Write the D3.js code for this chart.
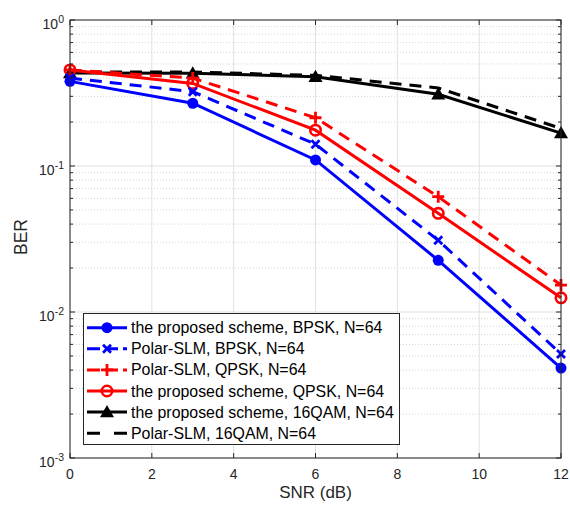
<!DOCTYPE html>
<html>
<head>
<meta charset="utf-8">
<script src="https://cdn.jsdelivr.net/npm/d3@7"></script>
<style>
  body { margin: 0; background: #fff; }
  svg { display: block; font-family: "Liberation Sans", Arial, Helvetica, sans-serif; }
</style>
</head>
<body>
<svg id="chart" width="570" height="506"></svg>
<script>
// SNR points (dB)
const snr = [0, 3, 6, 9, 12];

// BER curves
const berProposedBPSK = [0.38, 0.269, 0.110, 0.0226, 0.00413];
const berPolarBPSK    = [0.40, 0.323, 0.141, 0.0310, 0.00516];
const berPolarQPSK    = [0.455, 0.400, 0.214, 0.0616, 0.0153];
const berProposedQPSK = [0.455, 0.368, 0.176, 0.0474, 0.0125];
const berProposed16   = [0.434, 0.431, 0.409, 0.310, 0.168];
const berPolar16      = [0.44, 0.44, 0.418, 0.342, 0.181];

const seriesNames = [
  "the proposed scheme, BPSK, N=64",
  "Polar-SLM, BPSK, N=64",
  "Polar-SLM, QPSK, N=64",
  "the proposed scheme, QPSK, N=64",
  "the proposed scheme, 16QAM, N=64",
  "Polar-SLM, 16QAM, N=64"
];

const xTicks = [0, 2, 4, 6, 8, 10, 12];
const yDecades = [1e-3, 1e-2, 1e-1, 1];
const yTickExponents = ["-3", "-2", "-1", "0"];

const series = [
  { name: seriesNames[0], values: berProposedBPSK, color: "#0000ff", dash: null, marker: "dot" },
  { name: seriesNames[1], values: berPolarBPSK, color: "#0000ff", dash: "12,8", marker: "x" },
  { name: seriesNames[2], values: berPolarQPSK, color: "#ff0000", dash: "12,8", marker: "plus" },
  { name: seriesNames[3], values: berProposedQPSK, color: "#ff0000", dash: null, marker: "circle" },
  { name: seriesNames[4], values: berProposed16, color: "#000000", dash: null, marker: "tri" },
  { name: seriesNames[5], values: berPolar16, color: "#000000", dash: "12,8", marker: null }
];

const svg = d3.select("#chart");
const m = { left: 70, top: 20, right: 561, bottom: 458 };
const axisColor = "#262626";

const x = d3.scaleLinear().domain([0, 12]).range([m.left, m.right]);
const y = d3.scaleLog().domain([1e-3, 1]).range([m.bottom, m.top]);

// minor log values
const minorY = [];
for (let e = -3; e < 0; e++) {
  for (let k = 2; k <= 9; k++) minorY.push(k * Math.pow(10, e));
}

const grid = svg.append("g");
// minor dotted grid
grid.selectAll("line.minor").data(minorY).enter().append("line")
  .attr("x1", m.left).attr("x2", m.right)
  .attr("y1", d => y(d)).attr("y2", d => y(d))
  .attr("stroke", "#d4d4d4").attr("stroke-width", 1).attr("stroke-dasharray", "1,2");
// major grid
grid.selectAll("line.majy").data(yDecades).enter().append("line")
  .attr("x1", m.left).attr("x2", m.right)
  .attr("y1", d => y(d)).attr("y2", d => y(d))
  .attr("stroke", "#e0e0e0").attr("stroke-width", 1);
grid.selectAll("line.majx").data(xTicks).enter().append("line")
  .attr("x1", d => x(d)).attr("x2", d => x(d))
  .attr("y1", m.top).attr("y2", m.bottom)
  .attr("stroke", "#e0e0e0").attr("stroke-width", 1);

// curves
const line = d3.line().x((d, i) => x(snr[i])).y(d => y(d));
const plot = svg.append("g");

function drawMarker(g, type, color, cx, cy) {
  if (type === "dot") {
    g.append("circle").attr("cx", cx).attr("cy", cy).attr("r", 5.5).attr("fill", color);
  } else if (type === "circle") {
    g.append("circle").attr("cx", cx).attr("cy", cy).attr("r", 5.2)
      .attr("fill", "none").attr("stroke", color).attr("stroke-width", 2.6);
  } else if (type === "x") {
    const s = 4;
    g.append("path").attr("d", `M${cx - s},${cy - s}L${cx + s},${cy + s}M${cx - s},${cy + s}L${cx + s},${cy - s}`)
      .attr("stroke", color).attr("stroke-width", 2.8);
  } else if (type === "plus") {
    const s = 6;
    g.append("path").attr("d", `M${cx - s},${cy}L${cx + s},${cy}M${cx},${cy - s}L${cx},${cy + s}`)
      .attr("stroke", color).attr("stroke-width", 2.8);
  } else if (type === "tri") {
    const s = 7;
    g.append("path").attr("d", `M${cx},${cy - s}L${cx + s},${cy + s * 0.75}L${cx - s},${cy + s * 0.75}Z`)
      .attr("fill", color);
  }
}

// draw in reverse so the first series sits on top
series.slice().reverse().forEach(s => {
  const g = plot.append("g");
  g.append("path").attr("d", line(s.values))
    .attr("fill", "none").attr("stroke", s.color).attr("stroke-width", 3)
    .attr("stroke-dasharray", s.dash);
  if (s.marker) s.values.forEach((v, i) => drawMarker(g, s.marker, s.color, x(snr[i]), y(v)));
});

// axes box
const ax = svg.append("g").attr("stroke", axisColor).attr("stroke-width", 1).attr("fill", "none");
ax.append("rect").attr("x", m.left).attr("y", m.top)
  .attr("width", m.right - m.left).attr("height", m.bottom - m.top);

// x ticks (bottom and top)
xTicks.forEach(t => {
  ax.append("line").attr("x1", x(t)).attr("x2", x(t)).attr("y1", m.bottom).attr("y2", m.bottom - 5);
  ax.append("line").attr("x1", x(t)).attr("x2", x(t)).attr("y1", m.top).attr("y2", m.top + 5);
});
// y ticks major and minor (left and right)
yDecades.forEach(t => {
  ax.append("line").attr("x1", m.left).attr("x2", m.left + 5).attr("y1", y(t)).attr("y2", y(t));
  ax.append("line").attr("x1", m.right).attr("x2", m.right - 5).attr("y1", y(t)).attr("y2", y(t));
});
minorY.forEach(t => {
  ax.append("line").attr("x1", m.left).attr("x2", m.left + 3).attr("y1", y(t)).attr("y2", y(t));
  ax.append("line").attr("x1", m.right).attr("x2", m.right - 3).attr("y1", y(t)).attr("y2", y(t));
});

// tick labels
const labels = svg.append("g").attr("fill", axisColor).attr("font-size", 14);
xTicks.forEach(t => {
  labels.append("text").attr("x", x(t)).attr("y", m.bottom + 21)
    .attr("text-anchor", "middle").text(t);
});
yDecades.forEach((t, i) => {
  const tx = labels.append("text").attr("x", m.left - 6).attr("y", y(t) + 9)
    .attr("text-anchor", "end");
  tx.append("tspan").text("10");
  tx.append("tspan").attr("dy", -6).attr("font-size", 10.5).text(yTickExponents[i]);
});

// axis titles
labels.append("text").attr("x", (m.left + m.right) / 2).attr("y", 498)
  .attr("text-anchor", "middle").attr("font-size", 17).text("SNR (dB)");
labels.append("text").attr("transform", `translate(27,${(m.top + m.bottom) / 2 - 2}) rotate(-90)`)
  .attr("text-anchor", "middle").attr("font-size", 17.5).text("BER");

// legend
const lg = svg.append("g");
const lx = 83.5, ly = 313.5, lw = 316, lh = 131, rowH = 21.1;
lg.append("rect").attr("x", lx).attr("y", ly).attr("width", lw).attr("height", lh)
  .attr("fill", "#fff").attr("stroke", "#262626").attr("stroke-width", 1);
series.forEach((s, i) => {
  const cy = ly + 14.2 + i * rowH;
  const g = lg.append("g");
  g.append("line").attr("x1", lx + 3.5).attr("x2", lx + 43.5).attr("y1", cy).attr("y2", cy)
    .attr("stroke", s.color).attr("stroke-width", 3)
    .attr("stroke-dasharray", s.dash ? (s.marker ? "13,5" : "13,14") : null);
  if (s.marker) drawMarker(g, s.marker, s.color, lx + 23.5, cy);
  g.append("text").attr("x", lx + 47.5).attr("y", cy + 5.5)
    .attr("font-size", 15.9).attr("fill", "#000").text(s.name);
});
</script>
</body>
</html>
